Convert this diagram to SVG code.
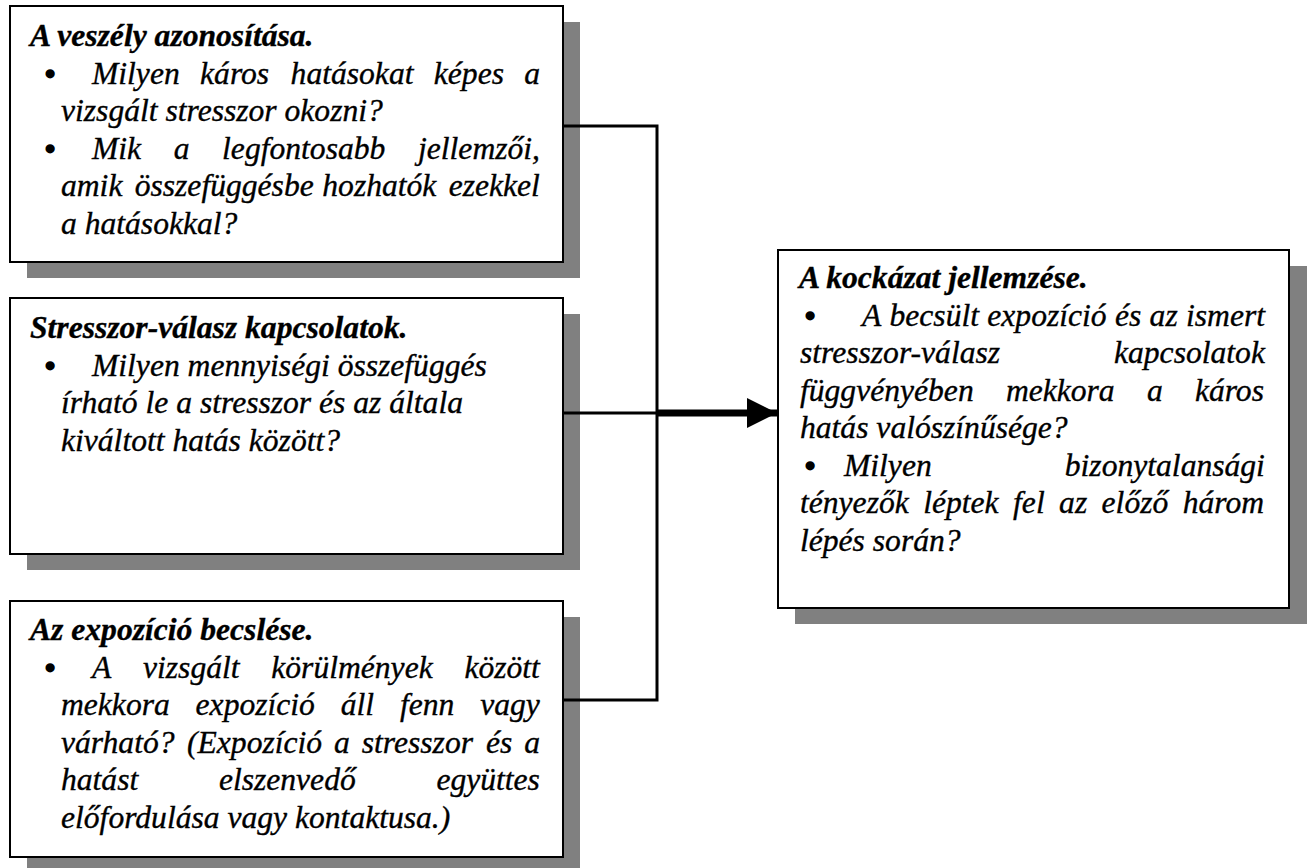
<svg xmlns="http://www.w3.org/2000/svg" width="1310" height="868" viewBox="0 0 1310 868">
  <style>
    text { font-family: 'Liberation Serif', 'Times New Roman', serif; font-size: 31.6px; font-style: italic; fill: #000; stroke: #000; stroke-width: 0.35px; }
    .title { font-weight: bold; }
    .bullet { font-style: normal; font-size: 32px; stroke-width: 1.6px; }
    .shadow { fill: #808080; }
    .box { fill: #fff; stroke: #000; stroke-width: 2; }
    .wire { fill: none; stroke: #000; stroke-width: 3; stroke-linejoin: miter; }
    .shaft { fill: none; stroke: #000; stroke-width: 7; }
  </style>
  <defs>
    <marker id="head" markerUnits="userSpaceOnUse" markerWidth="31" markerHeight="31" refX="30" refY="15" orient="auto">
      <path d="M0,0 L30,15 L0,30 Z" fill="#000"/>
    </marker>
  </defs>

  <!-- hazard identification -->
  <g id="hazard">
    <rect class="shadow" x="27" y="22" width="553" height="256"/>
    <rect class="box" x="10" y="6" width="553" height="256"/>
    <text class="title" x="30" y="46">A veszély azonosítása.</text>
    <text y="83.5"><tspan class="bullet" x="44.4" dy="1">•</tspan><tspan x="92" dy="-1">Milyen</tspan><tspan x="200.1">káros</tspan><tspan x="290.6">hatásokat</tspan><tspan x="433.8">képes</tspan><tspan x="524.3">a</tspan></text>
    <text x="61" y="121">vizsgált stresszor okozni?</text>
    <text y="158.5"><tspan class="bullet" x="44.4" dy="1">•</tspan><tspan x="92" dy="-1">Mik</tspan><tspan x="173.7">a</tspan><tspan x="222.1">legfontosabb</tspan><tspan x="418">jellemzői,</tspan></text>
    <text y="196"><tspan x="61">amik</tspan><tspan x="134.7">összefüggésbe</tspan><tspan x="322.3">hozhatók</tspan><tspan x="448.7">ezekkel</tspan></text>
    <text x="61" y="233.5">a hatásokkal?</text>
  </g>

  <!-- stressor-response -->
  <g id="stressor-response">
    <rect class="shadow" x="27" y="314" width="553" height="256"/>
    <rect class="box" x="10" y="298" width="553" height="256"/>
    <text class="title" x="30" y="338">Stresszor-válasz kapcsolatok.</text>
    <text y="375.5"><tspan class="bullet" x="44.4" dy="1">•</tspan><tspan x="92" dy="-1">Milyen mennyiségi összefüggés</tspan></text>
    <text x="61" y="413">írható le a stresszor és az általa</text>
    <text x="61" y="450.5">kiváltott hatás között?</text>
  </g>

  <!-- exposure estimate -->
  <g id="exposure">
    <rect class="shadow" x="27" y="617" width="553" height="256"/>
    <rect class="box" x="10" y="601" width="553" height="256"/>
    <text class="title" x="30" y="640">Az expozíció becslése.</text>
    <text y="677.5"><tspan class="bullet" x="44.4" dy="1">•</tspan><tspan x="92" dy="-1">A</tspan><tspan x="143">vizsgált</tspan><tspan x="271.3">körülmények</tspan><tspan x="464.4">között</tspan></text>
    <text y="715"><tspan x="61">mekkora</tspan><tspan x="195.6">expozíció</tspan><tspan x="340.8">áll</tspan><tspan x="400">fenn</tspan><tspan x="480.2">vagy</tspan></text>
    <text y="752.5"><tspan x="61">várható?</tspan><tspan x="187">(Expozíció</tspan><tspan x="334.1">a</tspan><tspan x="361.8">stresszor</tspan><tspan x="486.1">és</tspan><tspan x="524.3">a</tspan></text>
    <text y="790"><tspan x="61">hatást</tspan><tspan x="218.9">elszenvedő</tspan><tspan x="436.4">együttes</tspan></text>
    <text x="61" y="827.5">előfordulása vagy kontaktusa.)</text>
  </g>

  <!-- risk characterisation -->
  <g id="risk">
    <rect class="shadow" x="795" y="266" width="512" height="358"/>
    <rect class="box" x="778" y="250" width="511" height="358"/>
    <text class="title" x="799" y="288">A kockázat jellemzése.</text>
    <text y="325.5"><tspan class="bullet" x="804.4" dy="1">•</tspan><tspan x="862" dy="-1">A</tspan><tspan x="889.5">becsült</tspan><tspan x="987.3">expozíció</tspan><tspan x="1115">és</tspan><tspan x="1149.6">az</tspan><tspan x="1186">ismert</tspan></text>
    <text y="363"><tspan x="800">stresszor-válasz</tspan><tspan x="1114">kapcsolatok</tspan></text>
    <text y="400.5"><tspan x="800">függvényében</tspan><tspan x="1005.9">mekkora</tspan><tspan x="1146.9">a</tspan><tspan x="1194.9">káros</tspan></text>
    <text x="800" y="438">hatás valószínűsége?</text>
    <text y="475.5"><tspan class="bullet" x="804.4" dy="1">•</tspan><tspan x="844" dy="-1">Milyen</tspan><tspan x="1064.8">bizonytalansági</tspan></text>
    <text y="513"><tspan x="800">tényezők</tspan><tspan x="923.2">léptek</tspan><tspan x="1013.1">fel</tspan><tspan x="1059.1">az</tspan><tspan x="1101.6">előző</tspan><tspan x="1182.7">három</tspan></text>
    <text x="800" y="550.5">lépés során?</text>
  </g>

  <!-- connectors -->
  <g id="connectors">
    <polyline class="wire" points="563,126 657,126 657,700 563,700"/>
    <line class="wire" x1="563" y1="413" x2="657" y2="413"/>
    <line class="shaft" x1="657" y1="413" x2="777" y2="413" marker-end="url(#head)"/>
  </g>
</svg>
